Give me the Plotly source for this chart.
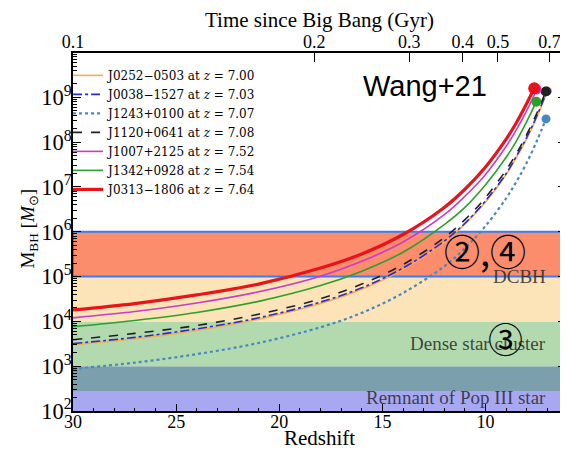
import math
import plotly.graph_objects as go

# ---------------- data ----------------
z_grid = [30, 27, 24, 21, 18, 16, 14, 12, 11, 10, 9, 8.5, 8]

quasars = ["J0252−0503", "J0038−1527", "J1243+0100", "J1120+0641",
           "J1007+2125", "J1342+0928", "J0313−1806"]
z_final = [7.00, 7.03, 7.07, 7.08, 7.52, 7.54, 7.64]
m_final = [1.39e9, 1.36e9, 3.3e8, 1.35e9, 1.5e9, 8.0e8, 1.6e9]

# BH mass along the seed-growth tracks at z_grid (+ z=7.5 for the z~7 objects)
m_J0252 = [3.0e3, 4.1e3, 6.3e3, 1.12e4, 2.5e4, 5.2e4, 1.45e5, 5.9e5, 1.48e6, 4.6e6, 1.9e7, 4.6e7, 1.2e8, 3.7e8]
m_J0038 = [3.2e3, 4.4e3, 6.8e3, 1.2e4, 2.7e4, 5.6e4, 1.55e5, 6.2e5, 1.55e6, 4.9e6, 2.0e7, 4.9e7, 1.29e8, 4.0e8]
m_J1243 = [870, 1.2e3, 1.86e3, 3.3e3, 7.4e3, 1.55e4, 4.3e4, 1.7e5, 4.3e5, 1.35e6, 5.6e6, 1.32e7, 3.5e7, 1.1e8]
m_J1120 = [3.9e3, 5.4e3, 8.1e3, 1.45e4, 3.2e4, 6.8e4, 1.86e5, 7.4e5, 1.86e6, 5.8e6, 2.4e7, 5.6e7, 1.5e8, 4.6e8]
m_J1007 = [1.2e4, 1.66e4, 2.57e4, 4.57e4, 1.02e5, 2.19e5, 5.9e5, 2.4e6, 6.2e6, 1.9e7, 8.1e7, 1.9e8, 5.1e8]
m_J1342 = [7.6e3, 1.05e4, 1.58e4, 2.8e4, 6.3e4, 1.32e5, 3.5e5, 1.45e6, 3.5e6, 1.12e7, 4.6e7, 1.07e8, 2.9e8]
m_J0313 = [1.8e4, 2.5e4, 3.9e4, 6.8e4, 1.55e5, 3.2e5, 8.7e5, 3.5e6, 8.9e6, 2.8e7, 1.17e8, 2.75e8, 7.4e8]
z_extra = 7.5

tracks = [m_J0252, m_J0038, m_J1243, m_J1120, m_J1007, m_J1342, m_J0313]

# seed mass regimes
band_names = ["Remnant of Pop III star", "Dense star cluster", "DCBH"]
band_lo = [1e2, 1e3, 1e4]
band_hi = [1e3, 1e4, 1e6]
band_label_y = [2.0e2, 3.2e3, 1e5]
overlap_lo = 2.8e2          # dense-cluster band also covers the top of the Pop III band
box_lo, box_hi = 1e5, 1e6   # highlighted box

# top axis: time since Big Bang (Gyr) at redshift positions
time_labels = ["0.1", "0.2", "0.3", "0.4", "0.5", "0.7"]
time_at_z = [30, 18.3, 13.7, 11.1, 9.4, 6.9]

# ---------------- styles ----------------
colors = ["#f5b04a", "#2b2bd0", "#4a86c0", "#202020", "#c83cc8", "#2ca02c", "#e8141c"]
dashes = ["solid", "dashdot", "dot", "dash", "solid", "solid", "solid"]
widths = [1.6, 1.6, 2.2, 1.6, 1.6, 1.6, 3.2]
msizes = [9, 9, 9, 10, 10, 10, 12]

SERIF = "Liberation Serif"
X0, X1 = 30, 6.1
Y0, Y1 = 2, 9.99

fig = go.Figure()

# bands
fig.add_shape(type="rect", xref="x", yref="y", x0=X0, x1=X1, y0=band_lo[0], y1=overlap_lo,
              fillcolor="#a8a8f2", line_width=0, layer="below")
fig.add_shape(type="rect", xref="x", yref="y", x0=X0, x1=X1, y0=overlap_lo, y1=band_hi[0],
              fillcolor="#7c9fae", line_width=0, layer="below")
fig.add_shape(type="rect", xref="x", yref="y", x0=X0, x1=X1, y0=band_lo[1], y1=band_hi[1],
              fillcolor="#b3d9ae", line_width=0, layer="below")
fig.add_shape(type="rect", xref="x", yref="y", x0=X0, x1=X1, y0=band_lo[2], y1=band_hi[2],
              fillcolor="#fde3b8", line_width=0, layer="below")
fig.add_shape(type="rect", xref="x", yref="y", x0=X0, x1=X1, y0=box_lo, y1=box_hi,
              fillcolor="#fb8c6c", line=dict(color="#3a7ff0", width=2), layer="below")

# growth tracks
for i, name in enumerate(quasars):
    m = tracks[i]
    zz = list(z_grid[:len(m)])
    if len(m) > len(z_grid):
        zz.append(z_extra)
    zz.append(z_final[i])
    mm = list(m) + [m_final[i]]
    fig.add_trace(go.Scatter(
        x=zz, y=mm, mode="lines", line_shape="spline",
        line=dict(color=colors[i], width=widths[i], dash=dashes[i]),
        name=f"{name} at <i>z</i> = {z_final[i]:.2f}"))

# end-point markers
for i, name in enumerate(quasars):
    fig.add_trace(go.Scatter(
        x=[z_final[i]], y=[m_final[i]], mode="markers",
        marker=dict(color=colors[i], size=msizes[i]), showlegend=False))

# dummy trace for top axis
fig.add_trace(go.Scatter(x=[X0], y=[1e2], xaxis="x2", mode="markers",
                         marker=dict(opacity=0), showlegend=False, hoverinfo="skip"))

# band labels
for name, yv in zip(band_names, band_label_y):
    fig.add_annotation(x=6.95, y=math.log10(yv), xref="x", yref="y",
                       text=name, showarrow=False, xanchor="right", yanchor="middle",
                       font=dict(family=SERIF, size=19, color="rgba(40,40,40,0.85)"))

fig.add_annotation(x=0.714, y=0.908, xref="paper", yref="paper", text="Wang+21",
                   xanchor="center", yanchor="middle",
                   showarrow=False, font=dict(family="Liberation Sans", size=29, color="black"))
fig.add_annotation(x=0.836, y=0.45, xref="paper", yref="paper", text="②,④",
                   xanchor="center", yanchor="middle",
                   showarrow=False, font=dict(family="Noto Sans CJK JP", size=36, color="black"))
fig.add_annotation(x=0.878, y=0.204, xref="paper", yref="paper", text="③",
                   xanchor="center", yanchor="middle",
                   showarrow=False, font=dict(family="Noto Sans CJK JP", size=35, color="black"))

# axis titles (bottom and left) placed as annotations for tight spacing
fig.add_annotation(x=0.5, y=-0.076, xref="paper", yref="paper", text="Redshift",
                   xanchor="center", yanchor="middle", showarrow=False,
                   font=dict(family=SERIF, size=21, color="black"))
fig.add_annotation(x=-0.089, y=0.51, xref="paper", yref="paper",
                   text="M<sub>BH</sub> [<i>M</i><sub>⊙</sub>]", textangle=-90,
                   xanchor="center", yanchor="middle", showarrow=False,
                   font=dict(family=SERIF, size=19, color="black"))

fig.update_layout(
    width=568, height=453,
    margin=dict(l=65, r=10, t=45, b=50, autoexpand=False),
    paper_bgcolor="white", plot_bgcolor="white",
    font=dict(family=SERIF, size=18, color="black"),
    showlegend=True,
    legend=dict(x=-0.01, y=0.978, xanchor="left", yanchor="top",
                bgcolor="rgba(0,0,0,0)", borderwidth=0,
                font=dict(family="DejaVu Serif", size=12), tracegroupgap=0, itemwidth=30),
    xaxis=dict(range=[X0, X1], showgrid=False, zeroline=False, automargin=False,
               showline=True, linecolor="black", linewidth=1.5, mirror=False,
               tickvals=[30, 25, 20, 15, 10], ticks="inside", ticklen=7, tickcolor="black",
               minor=dict(ticks="inside", ticklen=3, dtick=1, tickcolor="black", showgrid=False),
               ticklabelstandoff=-6,
               tickfont=dict(size=18)),
    xaxis2=dict(range=[X0, X1], overlaying="x", side="top", showgrid=False, zeroline=False,
                automargin=False,
                showline=True, linecolor="black", linewidth=1.5,
                tickvals=time_at_z, ticktext=time_labels, ticks="inside", ticklen=9,
                tickcolor="black", ticklabelstandoff=-4,
                title=dict(text="Time since Big Bang (Gyr)", font=dict(size=21), standoff=11),
                tickfont=dict(size=18)),
    yaxis=dict(type="log", range=[Y0, Y1], showgrid=False, zeroline=False, automargin=False,
               showline=True, linecolor="black", linewidth=1.5, mirror="ticks",
               dtick=1, exponentformat="power", ticks="inside", ticklen=8, tickcolor="black",
               minor=dict(ticks="inside", ticklen=4, tickcolor="black", showgrid=False),
               ticklabelstandoff=-4,
               tickfont=dict(size=18)),
)

fig.write_html("out.html")
